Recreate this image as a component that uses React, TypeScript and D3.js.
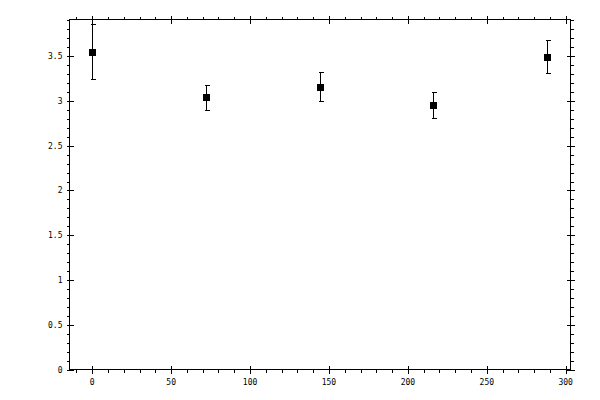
import * as d3 from 'd3';

// readings
const xValues = [0, 72, 144, 216, 288];
const yValues = [3.55, 3.04, 3.16, 2.96, 3.494];
const yErrors = [0.305, 0.14, 0.16, 0.145, 0.183];

const xMajorTicks = [0, 50, 100, 150, 200, 250, 300];
const yMajorTicks = [0, 0.5, 1, 1.5, 2, 2.5, 3, 3.5];

const width = 600;
const height = 400;
const left = 69.5;
const right = 570.5;
const top = 19.5;
const bottom = 369.5;

export default function App() {
    const x = d3.scaleLinear().domain([-14.4, 302.4]).range([left, right - 1]);
    const y = d3.scaleLinear().domain([0, 3.91]).range([bottom, top]);

    const xMinor = d3.range(-10, 301, 10).filter((t) => !xMajorTicks.includes(t));
    const yMinor = d3.range(0, 39.5, 1).map((t) => t / 10).filter((t) => !yMajorTicks.some((m) => Math.abs(m - t) < 1e-9));

    const px = (v: number) => Math.round(v) + 0.5;
    const font = '"DejaVu Sans Mono", monospace';

    return (
        <svg width={width} height={height} style={{ position: 'absolute', left: 0, top: 0, background: 'white' }}>
            <g stroke="black" strokeWidth={1} shapeRendering="crispEdges">
                {/* frame */}
                <rect x={left} y={top} width={right - left} height={bottom - top} fill="none" />
                {/* x minor ticks, outward */}
                {xMinor.map((t) => (
                    <g key={'xm' + t}>
                        <line x1={px(x(t))} x2={px(x(t))} y1={bottom} y2={bottom + 3} />
                        <line x1={px(x(t))} x2={px(x(t))} y1={top} y2={top - 3} />
                    </g>
                ))}
                {/* x major ticks, crossing */}
                {xMajorTicks.map((t) => (
                    <g key={'xM' + t}>
                        <line x1={px(x(t))} x2={px(x(t))} y1={bottom - 4} y2={bottom + 4} />
                        <line x1={px(x(t))} x2={px(x(t))} y1={top - 4} y2={top + 4} />
                    </g>
                ))}
                {/* y minor ticks, outward */}
                {yMinor.map((t) => (
                    <g key={'ym' + t}>
                        <line x1={left} x2={left - 3} y1={px(y(t))} y2={px(y(t))} />
                        <line x1={right} x2={right + 3} y1={px(y(t))} y2={px(y(t))} />
                    </g>
                ))}
                {/* y major ticks, crossing */}
                {yMajorTicks.map((t) => (
                    <g key={'yM' + t}>
                        <line x1={left - 3} x2={left + 4} y1={px(y(t))} y2={px(y(t))} />
                        <line x1={right - 4} x2={right + 4} y1={px(y(t))} y2={px(y(t))} />
                    </g>
                ))}
            </g>

            <g fontFamily={font} fontSize={8} fill="black">
                {xMajorTicks.map((t) => (
                    <text key={'xl' + t} x={x(t)} y={bottom + 15} textAnchor="middle">{t}</text>
                ))}
                {yMajorTicks.map((t) => (
                    <text key={'yl' + t} x={left - 7} y={y(t) + 3} textAnchor="end">{t}</text>
                ))}
            </g>

            {/* error bars and markers */}
            <g stroke="black" strokeWidth={1} shapeRendering="crispEdges">
                {xValues.map((xv, i) => {
                    const cx = px(x(xv));
                    const y0 = px(y(yValues[i] - yErrors[i]));
                    const y1 = px(y(yValues[i] + yErrors[i]));
                    return (
                        <g key={'e' + i}>
                            <line x1={cx} x2={cx} y1={y0} y2={y1} />
                            <line x1={cx - 2} x2={cx + 3} y1={y0} y2={y0} />
                            <line x1={cx - 2} x2={cx + 3} y1={y1} y2={y1} />
                        </g>
                    );
                })}
            </g>
            <g fill="black" shapeRendering="crispEdges">
                {xValues.map((xv, i) => (
                    <rect key={'p' + i} x={Math.round(x(xv)) - 3} y={Math.round(y(yValues[i])) - 3} width={7} height={7} />
                ))}
            </g>
        </svg>
    );
}
